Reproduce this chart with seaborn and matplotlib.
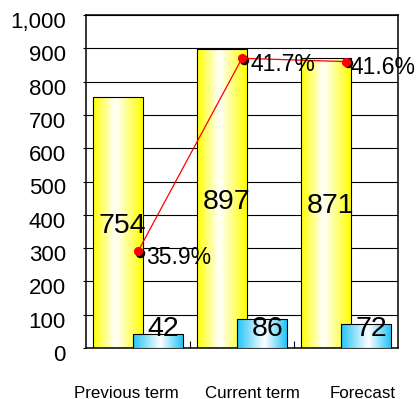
import numpy as np
import matplotlib
matplotlib.use("Agg")
import matplotlib.pyplot as plt
from matplotlib.colors import LinearSegmentedColormap
from matplotlib.transforms import ScaledTranslation, blended_transform_factory
import seaborn as sns

# ---- data -------------------------------------------------------------
categories = ["Previous term", "Current term", "Forecast"]
sales = [754, 897, 871]          # yellow bars
profit = [42, 86, 72]            # blue bars
margin_pct = [35.9, 41.7, 41.6]  # red line (secondary scale)
y_ticks = [0, 100, 200, 300, 400, 500, 600, 700, 800, 900, 1000]
y_tick_labels = ["0", "100", "200", "300", "400", "500", "600", "700",
                 "800", "900", "1,000"]

# ---- style ------------------------------------------------------------
sns.set_theme(style="white")
plt.rcParams["font.family"] = ["Liberation Sans", "DejaVu Sans"]

YELLOW = "#FFFF00"
BLUE = "#22C4F8"
DPI = 100

fig = plt.figure(figsize=(4.16, 3.99), dpi=DPI)
ax = fig.add_axes([86 / 416, 51 / 399, 312 / 416, 333 / 399])

x = np.arange(len(categories))
shift = 0.19
bar_w = 0.48


def gradient_bars(ax, patches, color, white_at, z):
    cmap = LinearSegmentedColormap.from_list(
        "g", [(0.0, color), (white_at, "white"), (1.0, color)])
    grad = np.linspace(0, 1, 256).reshape(1, -1)
    for p in patches:
        x0, y0 = p.get_x(), p.get_y()
        w, h = p.get_width(), p.get_height()
        im = ax.imshow(grad, cmap=cmap, extent=[x0, x0 + w, y0, y0 + h],
                       aspect="auto", interpolation="bicubic", zorder=z)
        im.set_clip_path(p)
        p.set_facecolor("none")
        p.set_edgecolor("black")
        p.set_linewidth(0.8)
        p.set_zorder(z + 0.01)


sns.barplot(x=x - shift, y=sales, native_scale=True, width=bar_w,
            color=YELLOW, ax=ax)
yellow_patches = list(ax.patches)
sns.barplot(x=x + shift, y=profit, native_scale=True, width=bar_w,
            color=BLUE, ax=ax)
blue_patches = [p for p in ax.patches if p not in yellow_patches]

gradient_bars(ax, yellow_patches, YELLOW, 0.45, 2)
gradient_bars(ax, blue_patches, BLUE, 0.55, 3)

ax.set_xlim(-0.5, 2.5)
ax.set_ylim(0, 1000)
ax.set_xlabel("")
ax.set_ylabel("")

# gridlines and frame
ax.set_yticks(y_ticks)
ax.set_yticklabels(y_tick_labels, fontsize=16, color="black")
ax.yaxis.grid(True, color="black", linewidth=0.8)
ax.set_axisbelow(True)
for s in ax.spines.values():
    s.set_color("black")
    s.set_linewidth(1.1)
    s.set_visible(True)
ax.tick_params(axis="y", direction="out", length=2, width=0.8,
               color="black", pad=12.4, left=True)
for lbl in ax.get_yticklabels():
    lbl.set_transform(lbl.get_transform() +
                      ScaledTranslation(0, -5 / DPI, fig.dpi_scale_trans))

ax.set_xticks([0.5, 1.5])
ax.set_xticklabels([])
ax.tick_params(axis="x", direction="in", length=5, width=0.8,
               color="black", bottom=True)

# category captions under the plot
caption_nudge_px = [-12, 10, 17]
btrans = blended_transform_factory(ax.transData, fig.transFigure)
for i, (cat, dx) in enumerate(zip(categories, caption_nudge_px)):
    ax.text(i + dx / 104, 1.5 / 399, cat, transform=btrans, ha="center",
            va="baseline", fontsize=12.2, color="black")

# value labels on bars
for xi, v in zip(x - shift, sales):
    ax.annotate(f"{v}", xy=(xi, v / 2), xytext=(3.2, -2.2),
                textcoords="offset points", ha="center", va="center",
                fontsize=20.5, color="black", zorder=5)
for xi, v in zip(x + shift, profit):
    ax.annotate(f"{v}", xy=(xi, 0), xytext=(4, 13.7),
                textcoords="offset points", ha="center", va="center",
                fontsize=20.5, color="black", zorder=5)

# margin line on its own hidden scale
ax2 = ax.twinx()
ax2.set_ylim(33, 43)
shadow = ax2.transData + ScaledTranslation(2 / DPI, -1.5 / DPI,
                                           fig.dpi_scale_trans)
ax2.plot(x, margin_pct, linestyle="none", marker="o", markersize=5.8,
         color="black", transform=shadow)
sns.lineplot(x=x, y=margin_pct, ax=ax2, color="red", linewidth=0.9,
             marker="o", markersize=5.8, markeredgecolor="red")
ax2.set_ylim(33, 43)
ax2.set_xlim(-0.5, 2.5)
ax2.set_yticks([])
ax2.set_ylabel("")
for s in ax2.spines.values():
    s.set_visible(False)
label_dx_pt = [5.8, 5.8, 3.5]
for xi, v, dx in zip(x, margin_pct, label_dx_pt):
    ax2.annotate(f"{v:.1f}%", xy=(xi, v), xytext=(dx, -4.3),
                 textcoords="offset points", ha="left", va="center",
                 fontsize=16.5, color="black")

fig.savefig("out.png", dpi=DPI)
